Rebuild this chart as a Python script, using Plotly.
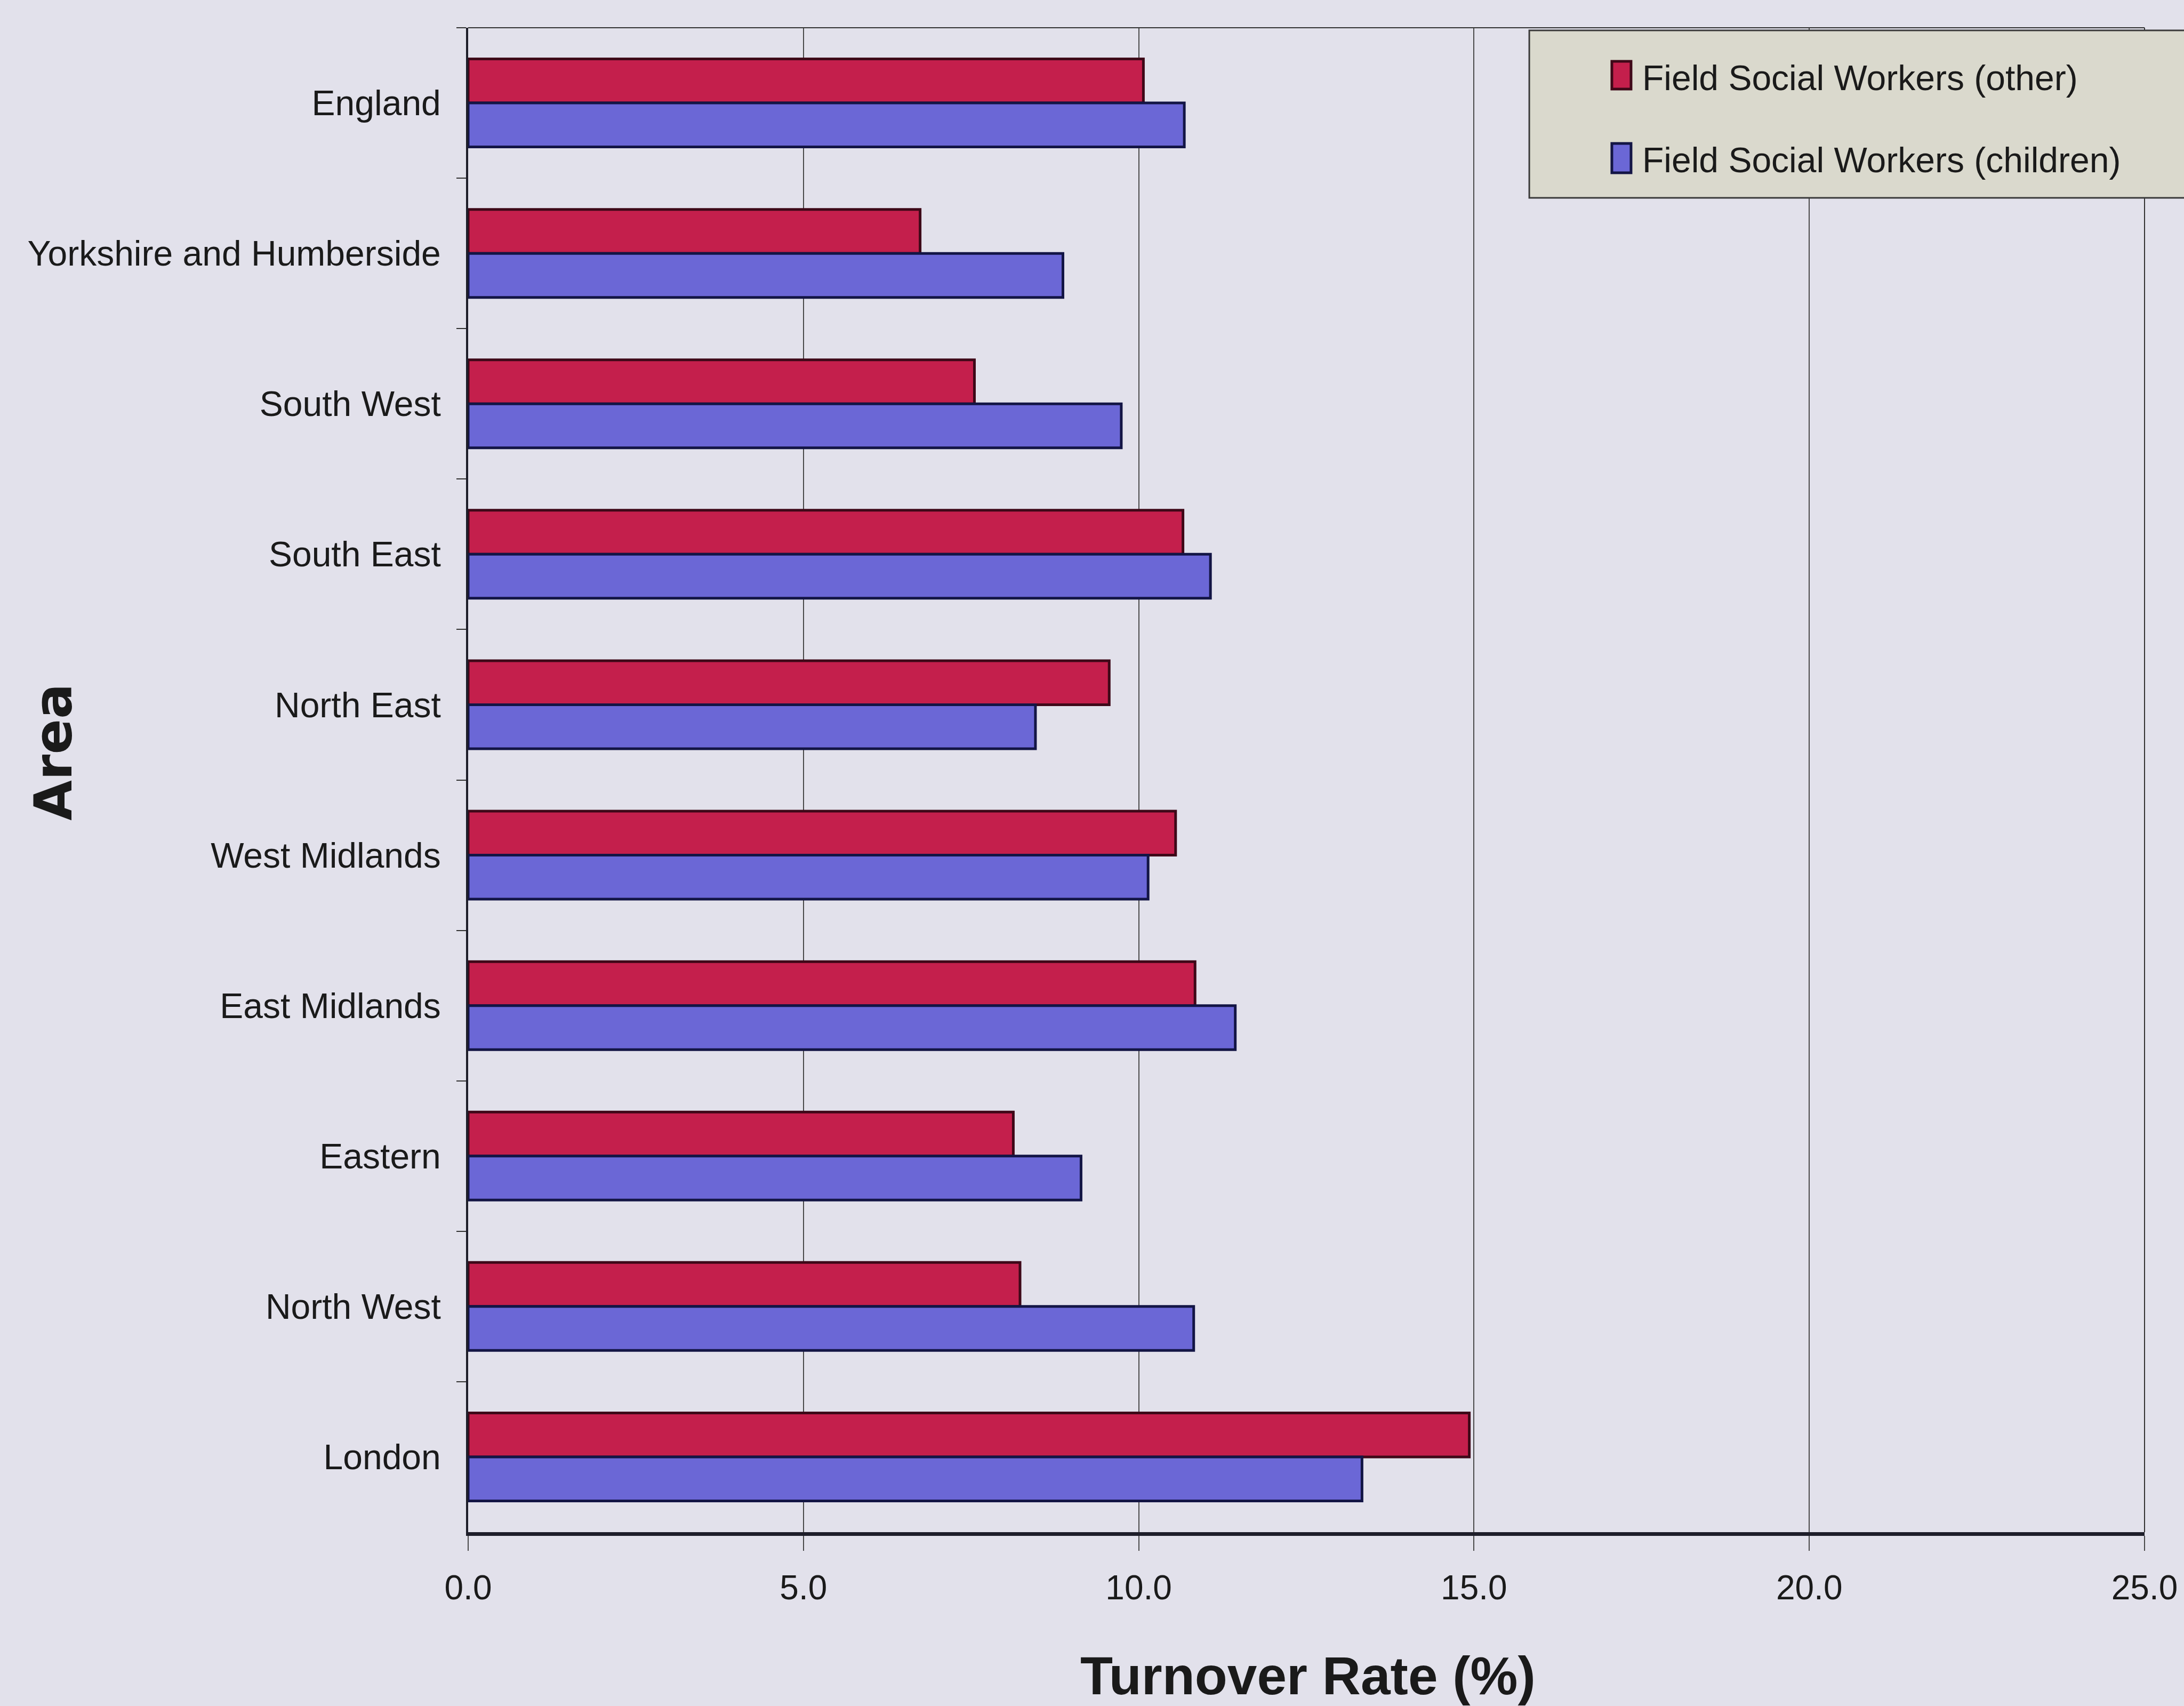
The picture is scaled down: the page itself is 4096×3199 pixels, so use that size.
import plotly.graph_objects as go

# ---- data ----
areas = ["England", "Yorkshire and Humberside", "South West", "South East", "North East",
         "West Midlands", "East Midlands", "Eastern", "North West", "London"]
other_rates = [10.07, 6.74, 7.55, 10.66, 9.56, 10.55, 10.84, 8.13, 8.23, 14.93]
children_rates = [10.68, 8.87, 9.74, 11.07, 8.46, 10.14, 11.44, 9.14, 10.82, 13.33]
series_names = ["Field Social Workers (other)", "Field Social Workers (children)"]
x_ticks = [0, 5, 10, 15, 20, 25]
x_ticklabels = ["0.0", "5.0", "10.0", "15.0", "20.0", "25.0"]
x_title = "Turnover Rate (%)"
y_title = "Area"

# ---- style ----
W, H = 4096, 3199
L, R, T, B = 878, 4025, 52, 2873
BG = "#E2E1EB"
RED, RED_LINE = "#C41F4C", "#3E0818"
BLUE, BLUE_LINE = "#6B67D6", "#131545"
INK = "#1A1A1A"
FONT = "Liberation Sans, Arial, sans-serif"


def px(xw):
    return (xw - L) / (R - L)


def py(yw):
    return (B - yw) / (B - T)


fig = go.Figure()
fig.add_trace(go.Bar(y=areas, x=other_rates, orientation="h", name=series_names[0],
                     marker=dict(color=RED, line=dict(color=RED_LINE, width=5)), showlegend=False))
fig.add_trace(go.Bar(y=areas, x=children_rates, orientation="h", name=series_names[1],
                     marker=dict(color=BLUE, line=dict(color=BLUE_LINE, width=5)), showlegend=False))

shapes = [
    # top border
    dict(type="line", xref="paper", yref="paper", x0=0, x1=1, y0=1, y1=1,
         line=dict(color="#333333", width=2)),
    # right border
    dict(type="line", xref="paper", yref="paper", x0=1, x1=1, y0=0, y1=1,
         line=dict(color="#333333", width=2)),
    # legend box
    dict(type="rect", xref="paper", yref="paper", x0=px(2870), x1=px(4110), y0=py(371), y1=py(57),
         fillcolor="#DAD9CD", line=dict(color="#3A3A3A", width=3), layer="above"),
    # legend swatches
    dict(type="rect", xref="paper", yref="paper", x0=px(3025), x1=px(3061), y0=py(167), y1=py(115),
         fillcolor=RED, line=dict(color=RED_LINE, width=5), layer="above"),
    dict(type="rect", xref="paper", yref="paper", x0=px(3025), x1=px(3061), y0=py(324), y1=py(269),
         fillcolor=BLUE, line=dict(color=BLUE_LINE, width=5), layer="above"),
]

annotations = [
    dict(text=series_names[0], xref="paper", yref="paper", x=px(3080), y=py(146),
         xanchor="left", yanchor="middle", showarrow=False, font=dict(family=FONT, size=66, color=INK)),
    dict(text=series_names[1], xref="paper", yref="paper", x=px(3080), y=py(300),
         xanchor="left", yanchor="middle", showarrow=False, font=dict(family=FONT, size=66, color=INK)),
    dict(text="<b>" + x_title + "</b>", xref="paper", yref="paper", x=px(2455), y=py(3142),
         xanchor="center", yanchor="middle", showarrow=False, font=dict(family=FONT, size=100, color=INK)),
    dict(text="<b>" + y_title + "</b>", xref="paper", yref="paper", x=px(99), y=py(1410),
         xanchor="center", yanchor="middle", showarrow=False, textangle=-90,
         font=dict(family="DejaVu Sans, Verdana, sans-serif", size=98, color=INK)),
]

fig.update_layout(
    width=W, height=H, autosize=False,
    margin=dict(l=L, r=W - R, t=T, b=H - B, pad=0),
    paper_bgcolor=BG, plot_bgcolor=BG,
    barmode="group", bargap=0.415, bargroupgap=0.0,
    font=dict(family=FONT, color=INK),
    shapes=shapes, annotations=annotations,
    showlegend=False,
)
fig.update_xaxes(
    range=[0, 25], tickvals=x_ticks, ticktext=x_ticklabels,
    showgrid=True, gridcolor="#4A4A4A", gridwidth=2,
    showline=True, linecolor="#1E1E2A", linewidth=7,
    ticks="outside", ticklen=28, tickwidth=2, tickcolor="#4A4A4A",
    tickfont=dict(family=FONT, size=64, color=INK), ticklabelstandoff=14,
    zeroline=False, fixedrange=True,
)
fig.update_yaxes(
    categoryorder="array", categoryarray=areas, autorange="reversed",
    showgrid=False, showline=True, linecolor="#1E1E2A", linewidth=4,
    ticks="outside", tickson="boundaries", ticklen=18, tickwidth=2, tickcolor="#333333",
    tickfont=dict(family=FONT, size=66, color=INK), ticklabelstandoff=34,
    zeroline=False, fixedrange=True,
)

fig.write_html("out.html")
